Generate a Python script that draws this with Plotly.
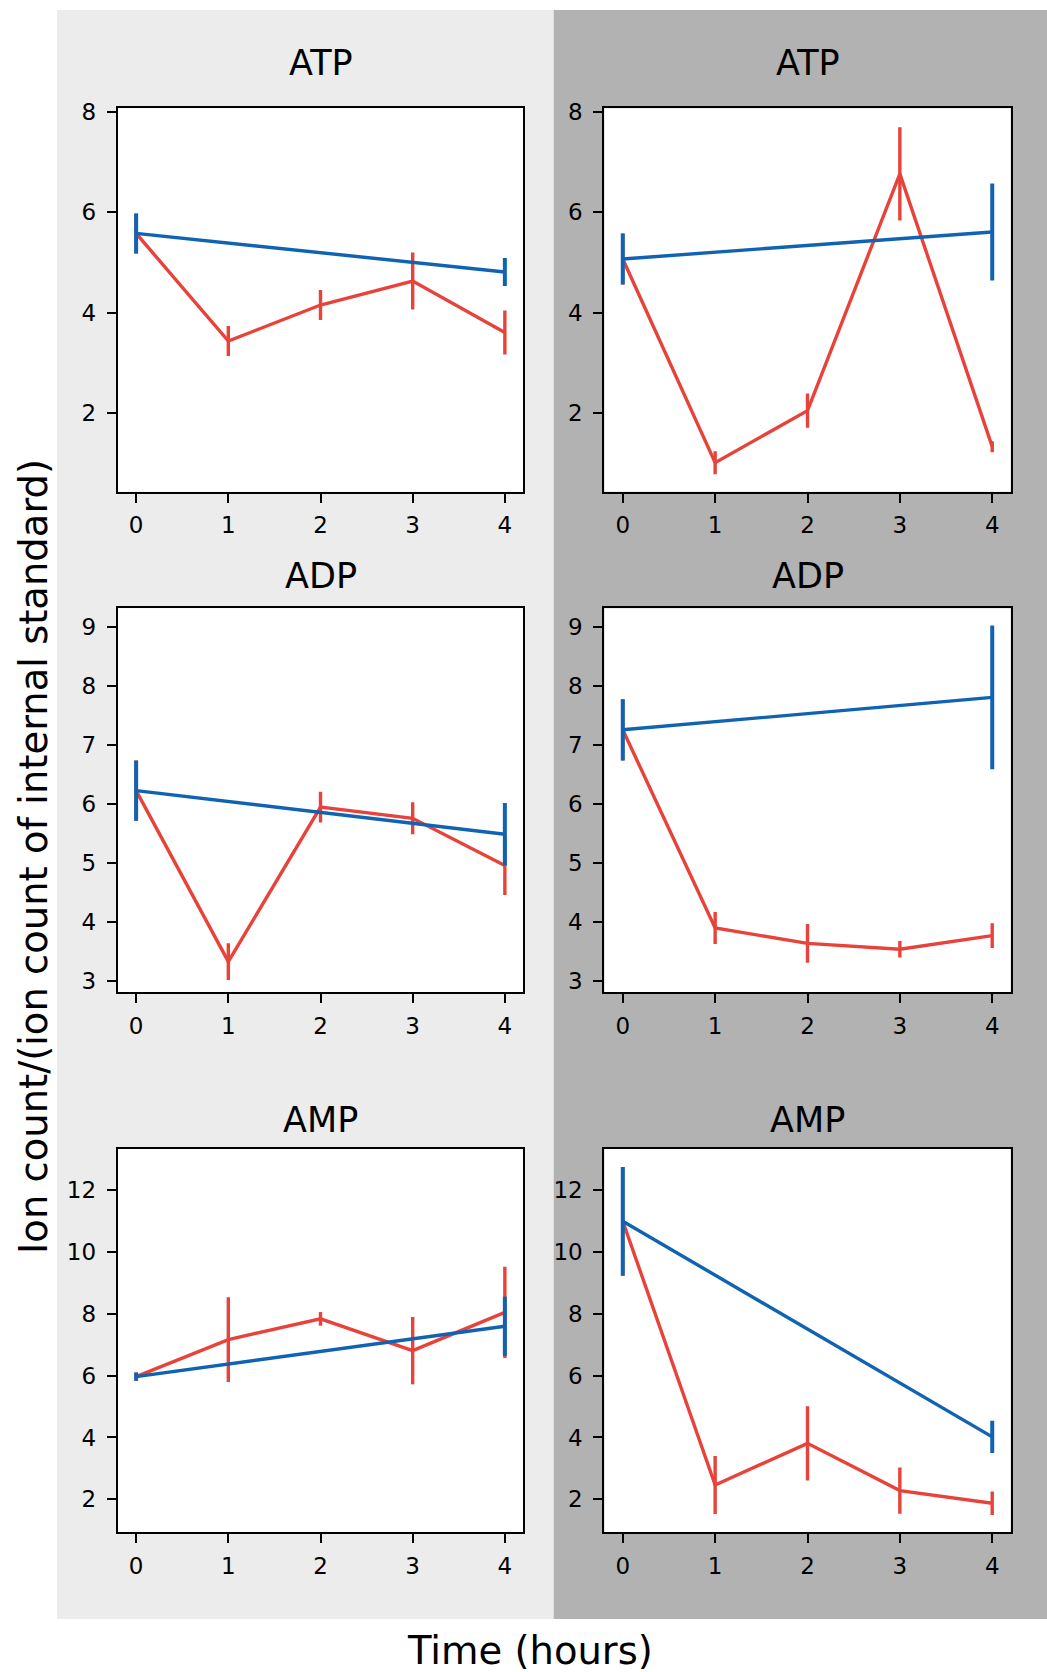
import plotly.graph_objects as go

# ---------------- data ----------------
times = [0, 1, 2, 3, 4]
ctrl_times = [0, 4]
metabolites = ["ATP", "ADP", "AMP"]

atp_left_blue = [5.58, 4.81]
atp_left_blue_err = [0.40, 0.28]
atp_left_red = [5.58, 3.43, 4.15, 4.63, 3.60]
atp_left_red_err = [0.40, 0.30, 0.30, 0.57, 0.44]

atp_right_blue = [5.07, 5.61]
atp_right_blue_err = [0.51, 0.97]
atp_right_red = [5.07, 1.00, 2.04, 6.77, 1.32]
atp_right_red_err = [0.51, 0.23, 0.34, 0.93, 0.11]

adp_left_blue = [6.22, 5.48]
adp_left_blue_err = [0.51, 0.53]
adp_left_red = [6.22, 3.32, 5.94, 5.75, 4.95]
adp_left_red_err = [0.51, 0.31, 0.26, 0.27, 0.50]

adp_right_blue = [7.25, 7.80]
adp_right_blue_err = [0.52, 1.22]
adp_right_red = [7.25, 3.89, 3.63, 3.53, 3.76]
adp_right_red_err = [0.52, 0.27, 0.33, 0.14, 0.21]

amp_left_blue = [5.97, 7.60]
amp_left_blue_err = [0.13, 0.96]
amp_left_red = [5.97, 7.17, 7.84, 6.81, 8.05]
amp_left_red_err = [0.13, 1.37, 0.22, 1.09, 1.48]

amp_right_blue = [11.0, 4.02]
amp_right_blue_err = [1.76, 0.52]
amp_right_red = [11.0, 2.46, 3.81, 2.28, 1.87]
amp_right_red_err = [1.76, 0.94, 1.20, 0.75, 0.38]

x_ticks = [0, 1, 2, 3, 4]
y_ticks_rows = [[2, 4, 6, 8], [3, 4, 5, 6, 7, 8, 9], [2, 4, 6, 8, 10, 12]]
y_ranges = [[0.42, 8.08], [2.80, 9.31], [0.93, 13.34]]
x_range = [-0.2, 4.2]

x_label = "Time (hours)"
y_label = "Ion count/(ion count of internal standard)"

panels = [
    # (row, col, blue, blue_err, red, red_err)
    (0, 0, atp_left_blue, atp_left_blue_err, atp_left_red, atp_left_red_err),
    (0, 1, atp_right_blue, atp_right_blue_err, atp_right_red, atp_right_red_err),
    (1, 0, adp_left_blue, adp_left_blue_err, adp_left_red, adp_left_red_err),
    (1, 1, adp_right_blue, adp_right_blue_err, adp_right_red, adp_right_red_err),
    (2, 0, amp_left_blue, amp_left_blue_err, amp_left_red, amp_left_red_err),
    (2, 1, amp_right_blue, amp_right_blue_err, amp_right_red, amp_right_red_err),
]

# ---------------- layout geometry (pixels) ----------------
W, H = 1047, 1672
BLUE = "#1063b2"
RED = "#e8433b"
FONT = "DejaVu Sans"

col_x = [(117.7, 523.3), (604.3, 1010.7)]
row_y = [(108.3, 491.7), (608.3, 992.3), (1149.0, 1532.3)]
title_y = [63, 576, 1120]


def px(x):
    return x / W


def py(y):
    return 1 - y / H


fig = go.Figure()
layout = dict(
    width=W, height=H, autosize=False,
    margin=dict(l=0, r=0, t=0, b=0, pad=0, autoexpand=False),
    paper_bgcolor="white",
    plot_bgcolor="rgba(0,0,0,0)",
    showlegend=False,
    shapes=[],
    annotations=[],
)

# background panels
layout["shapes"].append(dict(type="rect", xref="paper", yref="paper",
                             x0=px(57), x1=px(553.7), y0=py(1619), y1=py(10),
                             fillcolor="#ececec", line=dict(width=0), layer="below"))
layout["shapes"].append(dict(type="rect", xref="paper", yref="paper",
                             x0=px(553.7), x1=px(1047), y0=py(1619), y1=py(10),
                             fillcolor="#b3b2b2", line=dict(width=0), layer="below"))

for i, (r, c, blue, blue_err, red, red_err) in enumerate(panels):
    n = i + 1
    xa = "x" if n == 1 else f"x{n}"
    ya = "y" if n == 1 else f"y{n}"
    xkey = "xaxis" if n == 1 else f"xaxis{n}"
    ykey = "yaxis" if n == 1 else f"yaxis{n}"
    x0, x1 = col_x[c]
    y0, y1 = row_y[r]
    # white plot area
    layout["shapes"].append(dict(type="rect", xref="paper", yref="paper",
                                 x0=px(x0), x1=px(x1), y0=py(y1), y1=py(y0),
                                 fillcolor="white", line=dict(width=0), layer="below"))
    common = dict(showline=True, mirror=True, linecolor="black", linewidth=2,
                  ticks="outside", ticklen=9, tickwidth=2, tickcolor="black",
                  showgrid=False, zeroline=False, automargin=False,
                  tickfont=dict(family=FONT, size=23, color="black"))
    layout[xkey] = dict(domain=[px(x0), px(x1)], anchor=ya, range=x_range,
                        tickmode="array", tickvals=x_ticks, ticklabelstandoff=3,
                        **common)
    layout[ykey] = dict(domain=[py(y1), py(y0)], anchor=xa, range=y_ranges[r],
                        tickmode="array", tickvals=y_ticks_rows[r], ticklabelstandoff=6,
                        **common)
    fig.add_trace(go.Scatter(x=times, y=red, mode="lines", xaxis=xa, yaxis=ya,
                             line=dict(color=RED, width=3.4),
                             error_y=dict(type="data", array=red_err, width=0,
                                          thickness=3.4, color=RED)))
    fig.add_trace(go.Scatter(x=ctrl_times, y=blue, mode="lines", xaxis=xa, yaxis=ya,
                             line=dict(color=BLUE, width=3.4),
                             error_y=dict(type="data", array=blue_err, width=0,
                                          thickness=4, color=BLUE)))
    layout["annotations"].append(dict(text=metabolites[r], xref="paper", yref="paper",
                                      x=px((x0 + x1) / 2), y=py(title_y[r]),
                                      xanchor="center", yanchor="middle", showarrow=False,
                                      font=dict(family=FONT, size=35, color="black")))

layout["annotations"].append(dict(text=x_label, xref="paper", yref="paper",
                                  x=px(530), y=py(1650), xanchor="center", yanchor="middle",
                                  showarrow=False,
                                  font=dict(family=FONT, size=38.5, color="black")))
layout["annotations"].append(dict(text=y_label, xref="paper", yref="paper",
                                  x=px(33), y=py(857), xanchor="center", yanchor="middle",
                                  textangle=-90, showarrow=False,
                                  font=dict(family=FONT, size=38.5, color="black")))

fig.update_layout(**layout)
fig.write_html(
    "out.html",
    config={"displayModeBar": False, "responsive": False},
    post_script=(
        "document.documentElement.style.margin='0px';"
        "document.documentElement.style.padding='0px';"
        "document.body.style.margin='0px';"
        "document.body.style.padding='0px';"
        "document.body.style.overflow='hidden';"
    ),
)
